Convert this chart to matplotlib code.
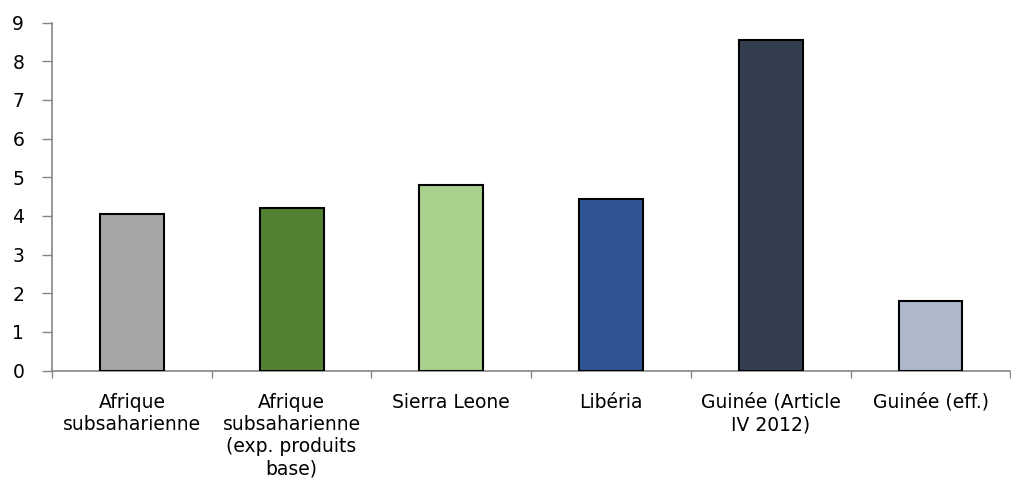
import numpy as np
import matplotlib.pyplot as plt

plt.rcParams['font.family'] = ['DejaVu Sans']

# Données
categories = ["Afrique\nsubsaharienne",
              "Afrique\nsubsaharienne\n(exp. produits\nbase)",
              "Sierra Leone",
              "Libéria",
              "Guinée (Article\nIV 2012)",
              "Guinée (eff.)"]
valeurs = [4.05, 4.2, 4.8, 4.45, 8.55, 1.8]
couleurs = ["#A6A6A6", "#548235", "#A9D18E", "#2F5597", "#333F50", "#ADB9CA"]
yticks = list(range(0, 10))

fig = plt.figure(figsize=(10.12, 4.82), dpi=100)
ax = fig.add_axes([0.0514, 0.231, 0.947, 0.722])

x = np.arange(len(categories))
ax.bar(x, valeurs, width=0.40, color=couleurs, edgecolor="black", linewidth=1.5, zorder=3)

ax.set_xlim(-0.5, len(categories) - 0.5)
ax.set_ylim(0, 9)
ax.set_yticks(yticks)

ax.set_xticks(x)
ax.set_xticklabels(categories, fontsize=13.5, linespacing=1.22, va="top")
ax.set_xticks(np.arange(len(categories) + 1) - 0.5, minor=True)
ax.tick_params(axis="x", which="major", length=0, pad=16)
ax.tick_params(axis="x", which="minor", length=5, color="#868686", width=1)
ax.tick_params(axis="y", length=7, color="#868686", width=1, labelsize=13.5, pad=13)

for s in ["top", "right"]:
    ax.spines[s].set_visible(False)
for s in ["left", "bottom"]:
    ax.spines[s].set_color("#868686")
    ax.spines[s].set_linewidth(1.2)

plt.savefig("out.png", dpi=100)
plt.close()
